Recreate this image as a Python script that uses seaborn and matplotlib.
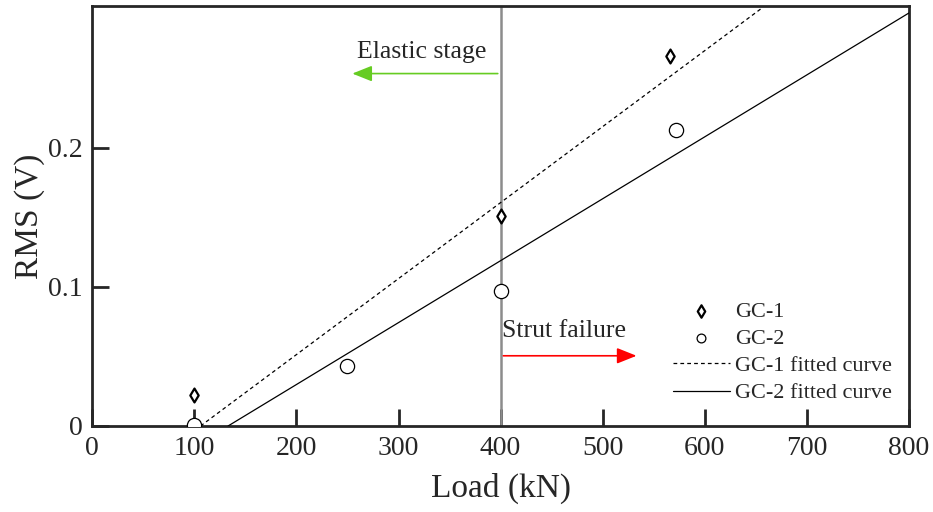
import numpy as np
import pandas as pd
import matplotlib
matplotlib.use("Agg")
import matplotlib.pyplot as plt
import seaborn as sns

# Measured points
gc1_load = [100, 400, 566]
gc1_rms = [0.022, 0.151, 0.266]
gc2_load = [100, 250, 400, 572]
gc2_rms = [0.001, 0.043, 0.097, 0.213]

# Fitted curves (x-intercept and end point)
fit1_load = [106, 655]
fit1_rms = [0.0, 0.300]
fit2_load = [133, 800]
fit2_rms = [0.0, 0.297]

x_ticks = [0, 100, 200, 300, 400, 500, 600, 700, 800]
y_ticks = [0, 0.1, 0.2]
y_tick_labels = ["0", "0.1", "0.2"]

sns.set_theme(style="ticks")
plt.rcParams['font.family'] = ['Liberation Serif', 'DejaVu Serif']

fig, ax = plt.subplots(figsize=(9.33, 5.12), dpi=100)
fig.subplots_adjust(left=0.099, right=0.974, top=0.988, bottom=0.168)

# Vertical divider at 400 kN
ax.axvline(400, color='#8c8c8c', lw=1.8, zorder=1)

df1 = pd.DataFrame({'load': gc1_load, 'rms': gc1_rms})
df2 = pd.DataFrame({'load': gc2_load, 'rms': gc2_rms})
f1 = pd.DataFrame({'load': fit1_load, 'rms': fit1_rms})
f2 = pd.DataFrame({'load': fit2_load, 'rms': fit2_rms})

sns.scatterplot(data=df1, x='load', y='rms', ax=ax, marker='d', s=50,
                facecolor='white', edgecolor='black', linewidth=1.6,
                label='GC-1', zorder=4)
sns.scatterplot(data=df2, x='load', y='rms', ax=ax, marker='o', s=105,
                facecolor='white', edgecolor='black', linewidth=0.9,
                label='GC-2', zorder=4)
sns.lineplot(data=f1, x='load', y='rms', ax=ax, color='black', lw=0.9,
             linestyle=(0, (3, 2.5)), label='GC-1 fitted curve', zorder=3)
sns.lineplot(data=f2, x='load', y='rms', ax=ax, color='black', lw=0.9,
             label='GC-2 fitted curve', zorder=3)

# Stage annotations
ax.annotate('', xy=(252, 0.2535), xytext=(400, 0.2535),
            arrowprops=dict(arrowstyle='-|>,head_length=1.0,head_width=0.4',
                            color='#66cc22', lw=1.2))
ax.text(323, 0.269, 'Elastic stage', ha='center', va='center', fontsize=18.5)
ax.annotate('', xy=(536, 0.0505), xytext=(400, 0.0505),
            arrowprops=dict(arrowstyle='-|>,head_length=1.0,head_width=0.4',
                            color='red', lw=1.2))
ax.text(401, 0.0685, 'Strut failure', ha='left', va='center', fontsize=18.5)

ax.set_xlim(0, 800)
ax.set_ylim(0, 0.302)
ax.set_xticks(x_ticks)
ax.set_yticks(y_ticks)
ax.set_yticklabels(y_tick_labels)
ax.tick_params(direction='in', length=12, width=2, labelsize=20, pad=7)
for sp in ax.spines.values():
    sp.set_linewidth(2)
    sp.set_visible(True)
ax.set_xlabel('Load (kN)', fontsize=24, labelpad=9)
ax.set_ylabel('RMS (V)', fontsize=24, labelpad=2)

leg = ax.legend(loc='lower right', bbox_to_anchor=(1.0, 0.014),
                frameon=False, fontsize=16,
                handlelength=2.55, handletextpad=0.25, labelspacing=0.3,
                borderaxespad=0.35)
for h in leg.legend_handles[:2]:
    h.set_sizes([40])

fig.savefig('out.png', dpi=100)
